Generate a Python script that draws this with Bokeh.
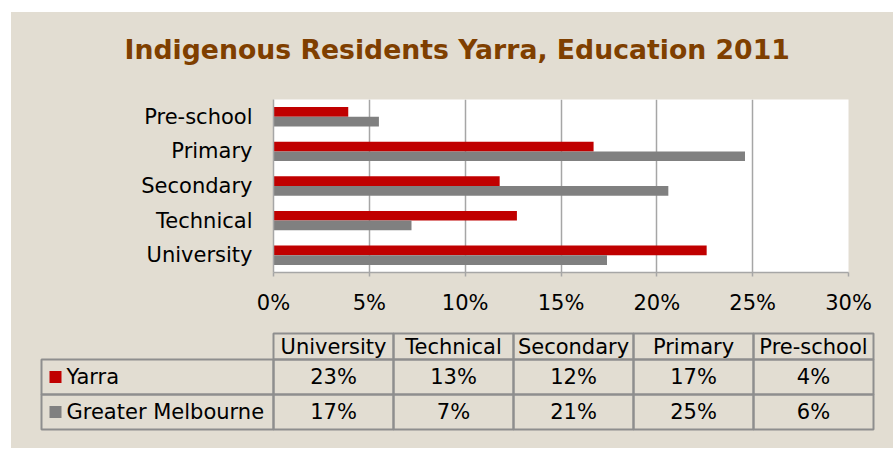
from bokeh.plotting import figure
from bokeh.models import FactorRange, Range1d, FixedTicker, PrintfTickFormatter, ColumnDataSource
from bokeh.transform import dodge
from bokeh.layouts import column
from bokeh.embed import file_html
from bokeh.resources import INLINE
from bokeh.core.properties import value

# ---- data ----
categories = ["University", "Technical", "Secondary", "Primary", "Pre-school"]
yarra = [22.6, 12.7, 11.8, 16.7, 3.9]
greater_melbourne = [17.4, 7.2, 20.6, 24.6, 5.5]
yarra_labels = ["23%", "13%", "12%", "17%", "4%"]
gm_labels = ["17%", "7%", "21%", "25%", "6%"]
series_names = ["Yarra", "Greater Melbourne"]
x_ticks = [0, 5, 10, 15, 20, 25, 30]
title_text = "Indigenous Residents Yarra, Education 2011"

# ---- styles ----
BG = "#E2DDD2"
RED = "#C00000"
GRAY = "#808080"
GRID = "#A6A6A6"
BORDER = "#8E8E8E"
FONT = "DejaVu Sans"
TXT = "#000000"

W = 882
H0 = 70
H1 = 248
H2 = 118


def plain(fig):
    fig.frame_align = False
    fig.grid.visible = False
    fig.background_fill_color = BG
    fig.border_fill_color = BG
    fig.outline_line_color = None


# ---- title strip ----
tf = figure(width=W, height=H0, x_range=Range1d(0, W), y_range=Range1d(H0, 0),
            output_backend="svg", toolbar_location=None, min_border=0,
            x_axis_location=None, y_axis_location=None)
plain(tf)
tf.text(x=[113], y=[37], text=[title_text], text_align="left", text_baseline="middle",
        text_font=value(FONT), text_font_size="26.7px", text_font_style="bold",
        text_color="#7F3F00")

# ---- bar chart ----
p = figure(width=W, height=H1, y_range=FactorRange(*categories), x_range=Range1d(0, 30),
           output_backend="svg", toolbar_location=None,
           min_border_left=262, min_border_right=45, min_border_top=17, min_border_bottom=58)
p.frame_align = False
p.background_fill_color = "white"
p.border_fill_color = BG
p.outline_line_color = None

src = ColumnDataSource(dict(cat=categories, yarra=yarra, gm=greater_melbourne))
p.hbar(y=dodge("cat", 0.14, range=p.y_range), left=0, right="yarra", height=0.28,
       fill_color=RED, line_color=None, source=src)
p.hbar(y=dodge("cat", -0.14, range=p.y_range), left=0, right="gm", height=0.28,
       fill_color=GRAY, line_color=None, source=src)

p.ygrid.grid_line_color = None
p.xaxis.ticker = FixedTicker(ticks=x_ticks)
p.xgrid.grid_line_color = GRID
p.xgrid.grid_line_width = 1.5
p.xaxis.formatter = PrintfTickFormatter(format="%d%%")

for ax in (p.xaxis[0], p.yaxis[0]):
    ax.axis_line_color = GRID
    ax.axis_line_width = 1.5
    ax.major_label_text_font = FONT
    ax.major_label_text_font_size = "21px"
    ax.major_label_text_color = TXT
    ax.minor_tick_line_color = None

p.xaxis.major_tick_out = 4
p.xaxis.major_tick_in = 0
p.xaxis.major_tick_line_color = GRID
p.xaxis.major_tick_line_width = 1.5
p.xaxis.major_label_standoff = 14
p.yaxis.major_tick_line_color = None
p.yaxis.major_label_standoff = 15

# ---- data table ----
t = figure(width=W, height=H2, x_range=Range1d(0, W), y_range=Range1d(H2, 0),
           output_backend="svg", toolbar_location=None, min_border=0,
           x_axis_location=None, y_axis_location=None)
plain(t)

TABLE_LEFT = 30
COL0 = 262
COL_W = 120
HEADER_TOP = 3
HEADER_BOTTOM = 29
ROW_H = 35

header_cats = categories  # table order: University ... Pre-school
n = len(header_cats)
col_left = [COL0 + i * COL_W for i in range(n)]
col_right = [c + COL_W for c in col_left]
col_mid = [c + COL_W / 2 for c in col_left]

# header cells
t.quad(left=col_left, right=col_right, top=[HEADER_TOP] * n, bottom=[HEADER_BOTTOM] * n,
       fill_color=None, line_color=BORDER, line_width=2)
t.text(x=col_mid, y=[(HEADER_TOP + HEADER_BOTTOM) / 2] * n, text=header_cats,
       text_align="center", text_baseline="middle", text_font=value(FONT),
       text_font_size="21px", text_color=TXT)

rows = [(series_names[0], yarra_labels, RED), (series_names[1], gm_labels, GRAY)]
for r, (name, labels, colr) in enumerate(rows):
    top = HEADER_BOTTOM + r * ROW_H
    bot = top + ROW_H
    mid = (top + bot) / 2
    t.quad(left=[TABLE_LEFT] + col_left, right=[COL0] + col_right,
           top=[top] * (n + 1), bottom=[bot] * (n + 1),
           fill_color=None, line_color=BORDER, line_width=2)
    t.text(x=col_mid, y=[mid] * n, text=labels, text_align="center", text_baseline="middle",
           text_font=value(FONT), text_font_size="21px", text_color=TXT)
    t.rect(x=[TABLE_LEFT + 14], y=[mid], width=12, height=12, fill_color=colr, line_color=None)
    t.text(x=[TABLE_LEFT + 25], y=[mid], text=[name], text_align="left", text_baseline="middle",
           text_font=value(FONT), text_font_size="21px", text_color=TXT)

layout = column(tf, p, t, spacing=0, margin=(12, 0, 0, 11),
                styles={"background-color": BG})
open("out.html", "w").write(file_html(layout, INLINE))
